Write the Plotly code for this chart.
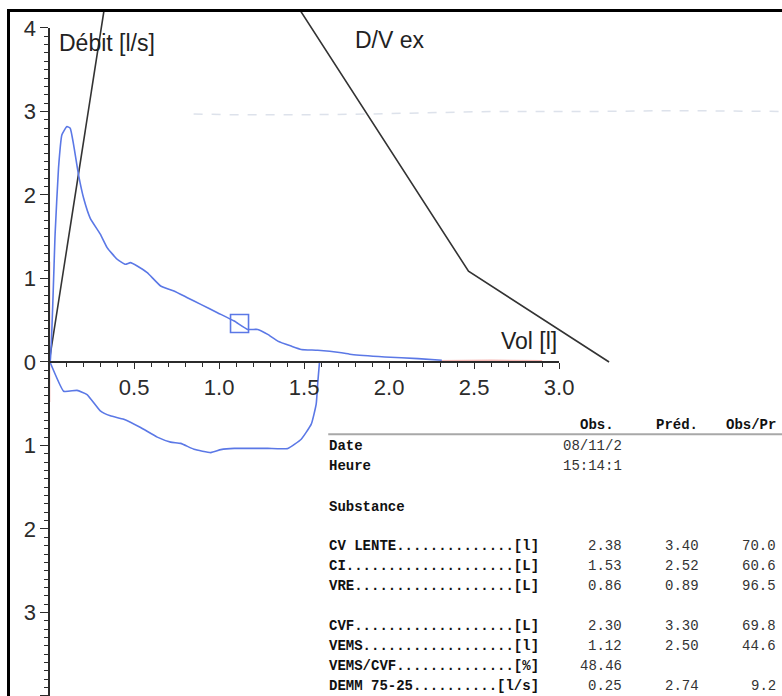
import plotly.graph_objects as go

# ---------------- data ----------------
# expiratory flow-volume curve (volume l, flow l/s)
exp_vol = [0.0, 0.006, 0.035, 0.055, 0.075, 0.105, 0.124, 0.144, 0.173, 0.203, 0.242,
           0.301, 0.341, 0.400, 0.449, 0.478, 0.518, 0.577, 0.656, 0.734, 0.813,
           0.892, 0.990, 1.089, 1.168, 1.227, 1.286, 1.345, 1.424, 1.483, 1.58,
           1.72, 1.78, 1.975, 2.17, 2.31]
exp_flow = [0.0, 0.01, 1.53, 2.32, 2.72, 2.82, 2.80, 2.60, 2.24, 1.96, 1.72,
            1.53, 1.37, 1.23, 1.17, 1.19, 1.15, 1.07, 0.91, 0.85, 0.77,
            0.69, 0.59, 0.49, 0.39, 0.39, 0.33, 0.25, 0.19, 0.15, 0.14,
            0.11, 0.09, 0.06, 0.04, 0.02]

# inspiratory curve (flow magnitude, drawn below the axis)
insp_vol = [0.0, 0.006, 0.085, 0.164, 0.223, 0.301, 0.360, 0.439, 0.538, 0.636,
            0.715, 0.774, 0.852, 0.951, 1.010, 1.089, 1.286, 1.404, 1.483, 1.542,
            1.571, 1.581, 1.591]
insp_flow = [0.0, 0.01, 0.35, 0.34, 0.39, 0.585, 0.645, 0.685, 0.785, 0.90,
             0.96, 0.975, 1.045, 1.085, 1.05, 1.035, 1.035, 1.035, 0.925, 0.745,
             0.505, 0.23, -0.01]

# VEMS marker
vems_vol = [1.12]
vems_flow = [0.46]

# predicted D/V ex curve and the steep reference line
pred_vol = [1.385, 2.467, 3.294]
pred_flow = [4.5, 1.087, 0.0]
slope_vol = [0.0, 0.345]
slope_flow = [0.0, 4.5]

# red marks of the recorder
red_vol = [0.0, 0.0]
red_flow = [1.2, -0.48]
red2_vol = [0.0, 0.0]
red2_flow = [-0.78, -1.46]
red3_vol = [2.30, 2.60, 2.90]
red3_flow = [0.015, 0.02, 0.015]

# faint scan trace near 3 l/s
scan_vol = [0.85, 1.1, 1.5, 1.9, 2.6, 3.2, 3.7, 4.33]
scan_flow = [2.97, 2.96, 2.96, 2.97, 3.0, 3.0, 3.01, 3.0]

x_ticks = [0.5, 1.0, 1.5, 2.0, 2.5, 3.0]
x_tick_text = ["0.5", "1.0", "1.5", "2.0", "2.5", "3.0"]
y_ticks = [-4, -3, -2, -1, 0, 1, 2, 3, 4]
y_tick_text = ["4", "3", "2", "1", "0", "1", "2", "3", "4"]

# results table
tbl_names = ["CV LENTE", "CI", "VRE", "CVF", "VEMS", "VEMS/CVF", "DEMM 75-25"]
tbl_units = ["[l]", "[L]", "[L]", "[L]", "[l]", "[%]", "[l/s]"]
tbl_obs = ["2.38", "1.53", "0.86", "2.30", "1.12", "48.46", "0.25"]
tbl_pred = ["3.40", "2.52", "0.89", "3.30", "2.50", "", "2.74"]
tbl_ratio = ["70.0", "60.6", "96.5", "69.8", "44.6", "", "9.2"]
tbl_header = ["Obs.", "Préd.", "Obs/Pr"]
info_names = ["Date", "Heure", "Substance"]
info_values = ["08/11/2", "15:14:1", ""]

# ---------------- layout geometry ----------------
TW, TH = 782, 696          # target picture size
SX = 800 / 782             # horizontal stretch of the rendering viewport
W, H = int(round(TW * SX)), TH
FL, FT = 10, 10            # frame position in target pixels
PW, PH = TW - FL, TH - FT
X0, X1 = -0.2303, 4.329
Y0, Y1 = -4.0, 4.191


def fx(v):
    return (v - X0) / (X1 - X0)


def fy(v):
    return (v - Y0) / (Y1 - Y0)


def px(p):
    return (p - FL) / PW


def py(p):
    return (TH - p) / PH


BLUE = "#5b78e6"
AX = "#2b2b2b"
SANS = "Liberation Sans, Arial, sans-serif"
MONO = "Liberation Mono, Courier New, monospace"

fig = go.Figure()

fig.add_trace(go.Scatter(x=scan_vol, y=scan_flow, mode="lines",
                         line=dict(color="rgba(120,140,175,0.25)", width=1.5, dash="dash"),
                         hoverinfo="skip"))
fig.add_trace(go.Scatter(x=red_vol, y=red_flow, mode="lines",
                         line=dict(color="rgba(235,60,50,0.8)", width=2), hoverinfo="skip"))
fig.add_trace(go.Scatter(x=red2_vol, y=red2_flow, mode="lines",
                         line=dict(color="rgba(245,120,130,0.4)", width=1.5), hoverinfo="skip"))
fig.add_trace(go.Scatter(x=red3_vol, y=red3_flow, mode="lines",
                         line=dict(color="rgba(235,80,70,0.4)", width=1.5), hoverinfo="skip"))
fig.add_trace(go.Scatter(x=slope_vol, y=slope_flow, mode="lines",
                         line=dict(color="#333333", width=1.6), hoverinfo="skip"))
fig.add_trace(go.Scatter(x=pred_vol, y=pred_flow, mode="lines",
                         line=dict(color="#333333", width=1.6), hoverinfo="skip"))
fig.add_trace(go.Scatter(x=exp_vol, y=exp_flow, mode="lines",
                         line=dict(color=BLUE, width=1.6, shape="spline", smoothing=0.4),
                         name="expiration"))
fig.add_trace(go.Scatter(x=insp_vol, y=[-v for v in insp_flow], mode="lines",
                         line=dict(color=BLUE, width=1.6, shape="spline", smoothing=0.4),
                         name="inspiration"))
fig.add_trace(go.Scatter(x=vems_vol, y=vems_flow, mode="markers",
                         marker=dict(symbol="square-open", size=18, color=BLUE,
                                     line=dict(width=1.6, color=BLUE)),
                         name="VEMS"))
# anchor trace for the drawn axes
fig.add_trace(go.Scatter(x=[0], y=[0], xaxis="x2", yaxis="y2", mode="markers",
                         marker=dict(opacity=0), hoverinfo="skip"))

fig.update_layout(
    width=W, height=H, autosize=False,
    margin=dict(l=round(FL * SX), r=0, t=FT, b=0, pad=0),
    paper_bgcolor="white", plot_bgcolor="rgba(0,0,0,0)",
    showlegend=False,
    xaxis=dict(range=[X0, X1], side="top", showline=True, linecolor="black",
               linewidth=2.5, showticklabels=False, ticks="", showgrid=False,
               zeroline=False),
    yaxis=dict(range=[Y0, Y1], side="left", showline=True, linecolor="black",
               linewidth=2.5, showticklabels=False, ticks="", showgrid=False,
               zeroline=False),
    xaxis2=dict(domain=[fx(0), fx(3.0)], range=[0, 3.0], anchor="free",
                position=fy(0), showline=True, linecolor=AX, linewidth=1.6,
                ticks="outside", ticklen=6, tickwidth=1.4, tickcolor=AX,
                tickvals=x_ticks, ticktext=x_tick_text,
                tickfont=dict(family=SANS, size=22, color=AX),
                minor=dict(ticks="outside", ticklen=4, tickwidth=1.2,
                           tickcolor=AX, tick0=0, dtick=0.1),
                showgrid=False, zeroline=False),
    yaxis2=dict(domain=[fy(-4), fy(4)], range=[-4, 4], anchor="free",
                position=fx(0), side="left", showline=True, linecolor=AX,
                linewidth=1.6, ticks="outside", ticklen=8, tickwidth=1.4,
                tickcolor=AX, tickvals=y_ticks, ticktext=y_tick_text,
                tickfont=dict(family=SANS, size=22, color=AX),
                minor=dict(ticks="outside", ticklen=4, tickwidth=1.2,
                           tickcolor=AX, tick0=0, dtick=0.1),
                showgrid=False, zeroline=False),
)

ann = []
ann.append(dict(text="Débit [l/s]", x=px(57), y=py(41), xref="paper", yref="paper",
                xanchor="left", yanchor="middle", showarrow=False,
                font=dict(family=SANS, size=23, color="#222")))
ann.append(dict(text="D/V ex", x=px(352), y=py(38), xref="paper", yref="paper",
                xanchor="left", yanchor="middle", showarrow=False,
                font=dict(family=SANS, size=23, color="#222")))
ann.append(dict(text="Vol [l]", x=px(497), y=py(340), xref="paper", yref="paper",
                xanchor="left", yanchor="middle", showarrow=False,
                font=dict(family=SANS, size=23, color="#222")))

# table
LBL_X = 326
COL_X = [622, 698, 775]
HEAD_X = [614, 697, 775]
mono_b = dict(family=MONO, size=14, color="#111", weight="bold")
mono_r = dict(family=MONO, size=14, color="#333")

for i, h in enumerate(tbl_header):
    ann.append(dict(text=h, x=px(HEAD_X[i]), y=py(424), xref="paper", yref="paper",
                    xanchor="right", yanchor="middle", showarrow=False, font=mono_b))

info_y = [445, 465, 506]
for i, name in enumerate(info_names):
    ann.append(dict(text=name, x=px(LBL_X), y=py(info_y[i]), xref="paper", yref="paper",
                    xanchor="left", yanchor="middle", showarrow=False, font=mono_b))
    if info_values[i]:
        ann.append(dict(text=info_values[i], x=px(COL_X[0]), y=py(info_y[i]),
                        xref="paper", yref="paper", xanchor="right", yanchor="middle",
                        showarrow=False, font=mono_r))

row_y = [546, 566, 586, 626, 646, 666, 686]
for i, name in enumerate(tbl_names):
    unit = tbl_units[i]
    label = name + "." * (25 - len(name) - len(unit)) + unit
    ann.append(dict(text=label, x=px(LBL_X), y=py(row_y[i]), xref="paper", yref="paper",
                    xanchor="left", yanchor="middle", showarrow=False, font=mono_b))
    for j, col in enumerate([tbl_obs, tbl_pred, tbl_ratio]):
        if col[i]:
            ann.append(dict(text=col[i], x=px(COL_X[j]), y=py(row_y[i]),
                            xref="paper", yref="paper", xanchor="right",
                            yanchor="middle", showarrow=False, font=mono_r))

fig.update_layout(annotations=ann)
fig.add_shape(type="line", xref="paper", yref="paper",
              x0=px(327), x1=px(782), y0=py(433.5), y1=py(433.5),
              line=dict(color="#a8a8a8", width=2))

fig.write_html("out.html",
               config={"responsive": False, "displayModeBar": False},
               post_script="document.body.style.margin='0';"
                           "document.body.style.overflow='hidden';")
